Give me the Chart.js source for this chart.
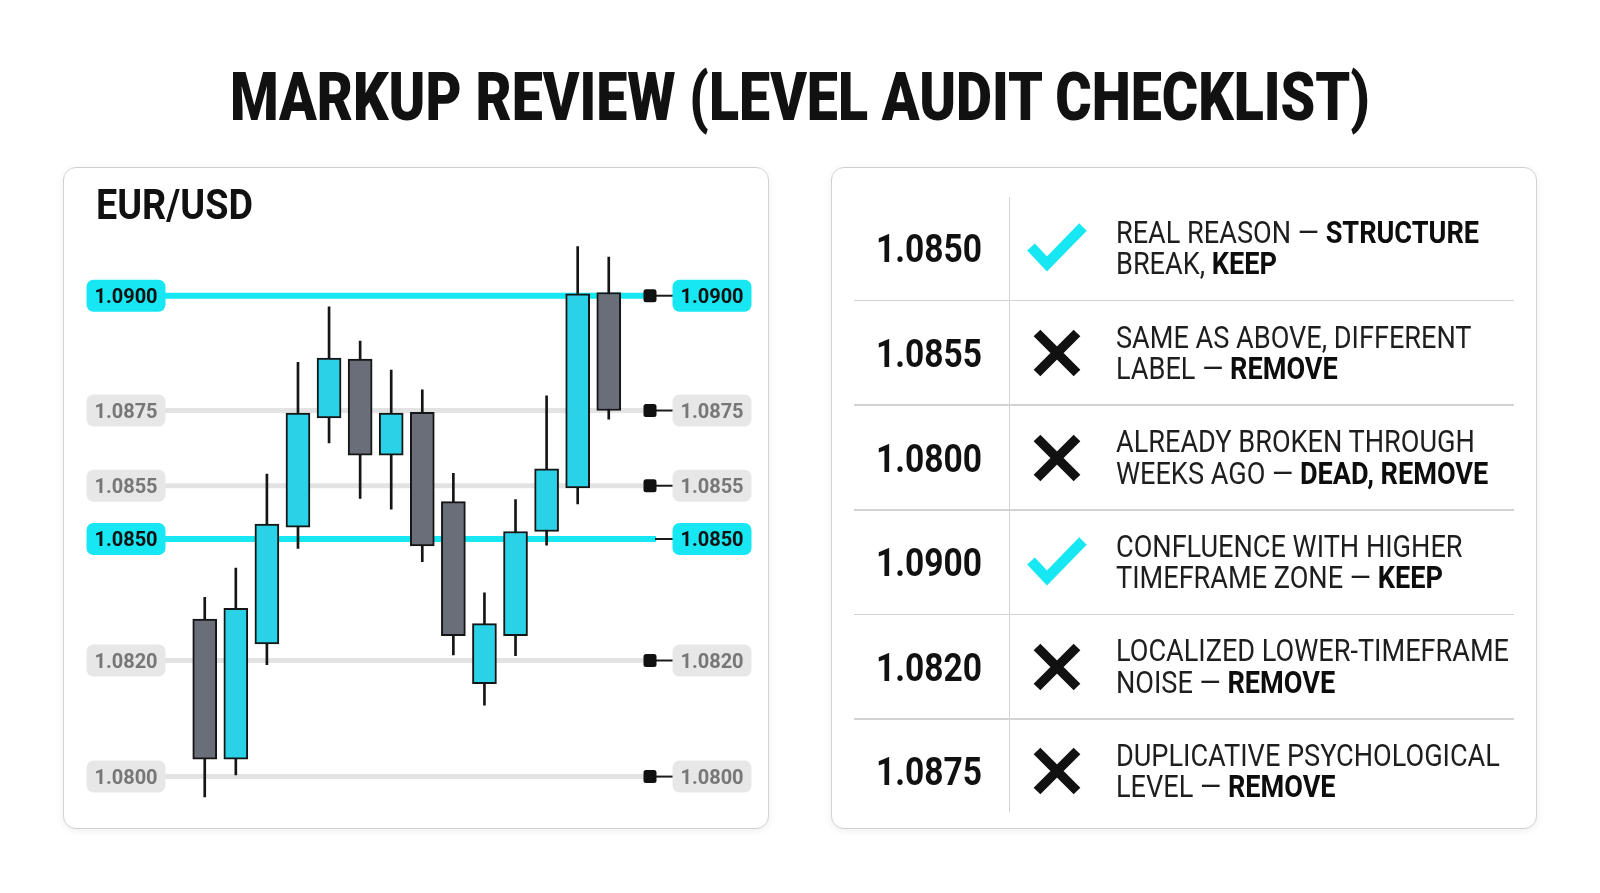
<!DOCTYPE html>
<html>
<head>
<meta charset="utf-8">
<script src="https://cdn.jsdelivr.net/npm/chart.js@4.4.1/dist/chart.umd.min.js"></script>
<style>
  html, body { margin: 0; padding: 0; background: #fff; }
  body { width: 1600px; height: 893px; position: relative; overflow: hidden; font-family: Roboto, "Noto Sans", sans-serif; color: #111; }
  .card { position: absolute; top: 167px; width: 706px; height: 662px; box-sizing: border-box; border: 1.5px solid #d2d2d2; border-radius: 13px; background: #fff; box-shadow: 0 2px 7px rgba(0,0,0,0.07); }
  #chart { position: absolute; left: 0; top: 0; z-index: 1; }
  .txt { position: absolute; white-space: nowrap; line-height: 1; z-index: 2; }
  .txt span.in { display: inline-block; }
  .rule { position: absolute; background: #d3d3d3; z-index: 2; }
  .icon { position: absolute; z-index: 2; }
</style>
</head>
<body>
<div class="card" style="left:63px"></div>
<div class="card" style="left:831px"></div>
<canvas id="chart" width="1600" height="893"></canvas>
<div class="txt" id="title" style="left:0;width:1600px;text-align:center;top:58px;font:900 67px Roboto"><span class="in">MARKUP REVIEW (LEVEL AUDIT CHECKLIST)</span></div>
<div class="txt" id="pair" style="left:96px;top:180px;font:700 42px Roboto"><span class="in">EUR/USD</span></div>
<div id="audit"></div>

<script>
// Données du graphique (bougies EUR/USD)
const candleLabels = ['1', '2', '3', '4', '5', '6', '7', '8', '9', '10', '11', '12', '13', '14'];
const opens  = [1.08302, 1.08030, 1.08241, 1.08511, 1.08730, 1.08862, 1.08631, 1.08745, 1.08535, 1.08160, 1.08261, 1.08507, 1.08548, 1.09007];
const highs  = [1.08356, 1.08428, 1.08581, 1.08855, 1.08976, 1.08901, 1.08838, 1.08795, 1.08583, 1.08367, 1.08537, 1.08782, 1.09107, 1.09084];
const lows   = [1.07965, 1.08003, 1.08193, 1.08477, 1.08664, 1.08538, 1.08528, 1.08444, 1.08214, 1.08123, 1.08212, 1.08485, 1.08533, 1.08727];
const closes = [1.08030, 1.08329, 1.08514, 1.08743, 1.08864, 1.08631, 1.08743, 1.08483, 1.08261, 1.08291, 1.08507, 1.08595, 1.09004, 1.08750];

// Niveaux tracés sur le graphique (haut -> bas)
const chartLevels = [1.0900, 1.0875, 1.0855, 1.0850, 1.0820, 1.0800];
const levelLabels = ['1.0900', '1.0875', '1.0855', '1.0850', '1.0820', '1.0800'];

// Tableau d'audit
const auditLevels = ['1.0850', '1.0855', '1.0800', '1.0900', '1.0820', '1.0875'];
const auditVerdicts = ['keep', 'remove', 'remove', 'keep', 'remove', 'remove'];
const auditNotes = [
    [['REAL REASON \u2014 ', 'STRUCTURE'], ['BREAK, ', 'KEEP']],
    [['SAME AS ABOVE, DIFFERENT', ''], ['LABEL \u2014 ', 'REMOVE']],
    [['ALREADY BROKEN THROUGH', ''], ['WEEKS AGO \u2014 ', 'DEAD, REMOVE']],
    [['CONFLUENCE WITH HIGHER', ''], ['TIMEFRAME ZONE \u2014 ', 'KEEP']],
    [['LOCALIZED LOWER-TIMEFRAME', ''], ['NOISE \u2014 ', 'REMOVE']],
    [['DUPLICATIVE PSYCHOLOGICAL', ''], ['LEVEL \u2014 ', 'REMOVE']]
];

// Couleurs
const CYAN = '#17e7f2';
const CYAN_BODY = '#29d2e7';
const GREY_BODY = '#6a6e78';
const INK = '#151515';

// l'axe de l'image n'est pas linéaire : position de chaque niveau dans la zone du graphique
const levelFrac = [0.0995, 0.3045, 0.4388, 0.5339, 0.7509, 0.9582];

class LevelScale extends Chart.LinearScale {
    _frac(v) {
        const n = chartLevels.length;
        let i = 0;
        while (i < n - 2 && v < chartLevels[i + 1]) i++;
        const v0 = chartLevels[i], v1 = chartLevels[i + 1];
        return levelFrac[i] + (v0 - v) / (v0 - v1) * (levelFrac[i + 1] - levelFrac[i]);
    }
    getPixelForValue(v) {
        return this.top + this._frac(v) * (this.bottom - this.top);
    }
    getValueForPixel(px) {
        const f = (px - this.top) / (this.bottom - this.top);
        const n = chartLevels.length;
        let i = 0;
        while (i < n - 2 && f > levelFrac[i + 1]) i++;
        const t = (f - levelFrac[i]) / (levelFrac[i + 1] - levelFrac[i]);
        return chartLevels[i] - t * (chartLevels[i] - chartLevels[i + 1]);
    }
}
LevelScale.id = 'levels';
LevelScale.defaults = {};
Chart.register(LevelScale);

const isKept = (label) => auditVerdicts[auditLevels.indexOf(label)] === 'keep';
const bullish = closes.map((c, i) => c >= opens[i]);

function roundRect(ctx, x, y, w, h, r) {
    ctx.beginPath();
    ctx.roundRect(x, y, w, h, r);
    ctx.fill();
}

// Lignes de niveaux + étiquettes à gauche et à droite
const levelPlugin = {
    id: 'levelLines',
    beforeDatasetsDraw(chart) {
        const { ctx, scales: { y } } = chart;
        ctx.save();
        chartLevels.forEach((lv, i) => {
            const py = y.getPixelForValue(lv);
            const keep = isKept(levelLabels[i]);
            const marker = levelLabels[i] !== '1.0850';

            ctx.lineCap = 'butt';
            ctx.strokeStyle = keep ? CYAN : '#e3e3e3';
            ctx.lineWidth = keep ? 6 : 5;
            ctx.beginPath();
            ctx.moveTo(165, py);
            ctx.lineTo(marker ? 644 : 656, py);
            ctx.stroke();

            ctx.strokeStyle = '#1a1a1a';
            ctx.lineWidth = 2;
            ctx.beginPath();
            ctx.moveTo(655, py);
            ctx.lineTo(673, py);
            ctx.stroke();
            if (marker) {
                ctx.fillStyle = '#111';
                roundRect(ctx, 643.5, py - 6.5, 13, 13, 2.5);
            }

            ctx.fillStyle = keep ? CYAN : '#e7e7e7';
            roundRect(ctx, 86.5, py - 16, 79, 32, 7);
            roundRect(ctx, 672.5, py - 16, 79, 32, 7);

            ctx.fillStyle = keep ? '#111' : '#777';
            ctx.font = 'bold 20px Roboto';
            ctx.textAlign = 'center';
            ctx.textBaseline = 'alphabetic';
            ctx.fillText(levelLabels[i], 126, py + 7.2);
            ctx.fillText(levelLabels[i], 712, py + 7.2);
        });
        ctx.restore();
    }
};

new Chart(document.getElementById('chart'), {
    type: 'bar',
    data: {
        labels: candleLabels,
        datasets: [
            {
                label: 'Body',
                data: opens.map((o, i) => [o, closes[i]]),
                backgroundColor: bullish.map(b => b ? CYAN_BODY : GREY_BODY),
                borderColor: INK,
                borderWidth: 2,
                borderSkipped: false,
                barThickness: 24,
                grouped: false,
                order: 0
            },
            {
                label: 'Wick',
                data: lows.map((l, i) => [l, highs[i]]),
                backgroundColor: INK,
                borderWidth: 0,
                barThickness: 2,
                grouped: false,
                order: 1
            }
        ]
    },
    options: {
        responsive: false,
        animation: false,
        layout: { padding: { left: 189.2, right: 975.7, top: 240, bottom: 93 } },
        plugins: { legend: { display: false }, tooltip: { enabled: false } },
        scales: {
            x: { display: false, offset: true, grid: { display: false } },
            y: { type: 'levels', display: false }
        }
    },
    plugins: [levelPlugin]
});

// Tableau de droite
const audit = document.getElementById('audit');
const ROW_TOP = 196, ROW_H = 104.6;

function addRule(x, y, w, h) {
    const d = document.createElement('div');
    d.className = 'rule';
    Object.assign(d.style, { left: x + 'px', top: y + 'px', width: w + 'px', height: h + 'px' });
    audit.appendChild(d);
}

const CHECK_SVG = `<svg width="64" height="64" viewBox="-32 -32 64 64"><polyline points="-26,-1 -10,16 26,-21" fill="none" stroke="${CYAN}" stroke-width="10.5" stroke-linejoin="miter" stroke-linecap="butt"/></svg>`;
const CROSS_SVG = `<svg width="64" height="64" viewBox="-32 -32 64 64"><path d="M-20,-20 L20,20 M20,-20 L-20,20" fill="none" stroke="#111" stroke-width="9.5" stroke-linecap="butt"/></svg>`;

const noteBlocks = [];
const valueEls = [];
auditLevels.forEach((lv, i) => {
    const cy = ROW_TOP + ROW_H * (i + 0.5);
    if (i > 0) addRule(854, ROW_TOP + ROW_H * i - 0.75, 660, 1.5);

    const v = document.createElement('div');
    v.className = 'txt';
    v.style.cssText = `left:876px;top:${cy + 11 - 0.842 * 39}px;font:700 39px Roboto;color:#111`;
    v.innerHTML = `<span class="in">${lv}</span>`;
    audit.appendChild(v);
    valueEls.push(v.firstChild);

    const ic = document.createElement('div');
    ic.className = 'icon';
    ic.style.cssText = `left:${1057 - 32}px;top:${cy - 32}px`;
    ic.innerHTML = auditVerdicts[i] === 'keep' ? CHECK_SVG : CROSS_SVG;
    audit.appendChild(ic);

    const n = document.createElement('div');
    n.className = 'txt';
    const lh = 31.2, fs = 31;
    const firstBase = (lh - 1.172 * fs) / 2 + 0.928 * fs;
    n.style.cssText = `left:1116px;top:${cy - 5 - firstBase}px;font:400 ${fs}px Roboto;line-height:${lh}px;color:#1e1e1e`;
    n.innerHTML = '<span class="in">' + auditNotes[i].map(([reg, bold]) =>
        `<div>${reg}<b style="font-weight:700;color:#0d0d0d">${bold}</b></div>`).join('') + '</span>';
    audit.appendChild(n);
    noteBlocks.push(n.firstChild);
});
addRule(1008.5, 197, 1.5, 615);

// Polices condensées : on ajuste la largeur sur l'image
function squeeze(el, target, origin) {
    const w = el.getBoundingClientRect().width;
    el.style.transformOrigin = origin || 'left center';
    el.style.transform = `scaleX(${target / w})`;
}
squeeze(document.querySelector('#title .in'), 1140, 'center center');
squeeze(document.querySelector('#pair .in'), 157);
valueEls.forEach(el => squeeze(el, 106));
const refLine = noteBlocks[4].firstChild;
const r = document.createRange();
r.selectNodeContents(refLine);
const noteScale = 393 / r.getBoundingClientRect().width;
noteBlocks.forEach(el => {
    el.style.transformOrigin = 'left top';
    el.style.transform = `scaleX(${noteScale})`;
});
</script>
</body>
</html>
